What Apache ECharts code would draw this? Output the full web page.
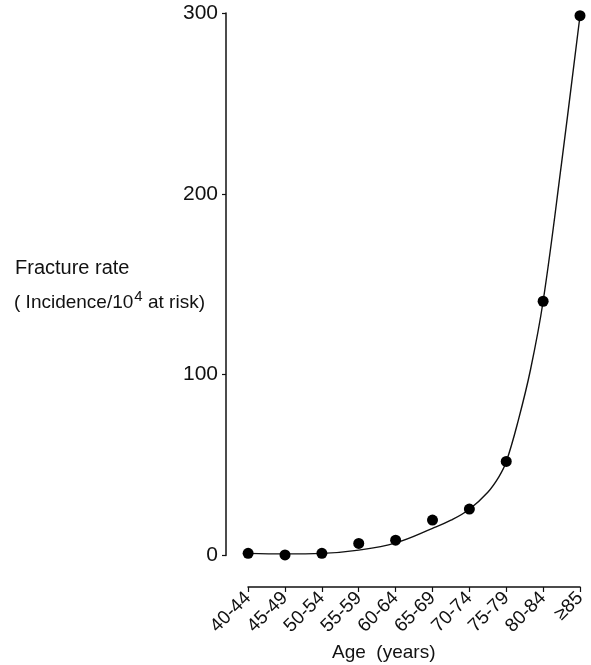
<!DOCTYPE html>
<html>
<head>
<meta charset="utf-8">
<script src="https://cdn.jsdelivr.net/npm/echarts@6/dist/echarts.min.js"></script>
<style>
  html, body { margin: 0; padding: 0; background: #fff; }
  #chart { width: 591px; height: 665px; }
</style>
</head>
<body>
<div id="chart"></div>
<script>
// age groups and observed fracture rates (per 10^4 at risk)
const ageGroups = ['40-44', '45-49', '50-54', '55-59', '60-64', '65-69', '70-74', '75-79', '80-84', '≥85'];
const fractureRates = [1.2, 0.3, 1.2, 6.7, 8.5, 19.6, 25.7, 52, 140.6, 298.5];

// fitted curve (x = age group index)
const curveX = [0, 1, 2, 3, 4, 5, 5.5, 6, 6.5, 6.8, 7, 7.33, 7.66, 8, 8.5, 9];
const curveY = [1.2, 0.9, 1.2, 3, 7, 15, 19.5, 25.6, 35, 43.5, 51.8, 75, 103, 140.6, 217, 298.5];

const yTicks = [0, 100, 200, 300];

const font = 'Liberation Sans';
const chart = echarts.init(document.getElementById('chart'));

const pointData = fractureRates.map((v, i) => [i, v]);
const curveData = curveX.map((x, i) => [x, curveY[i]]);

chart.setOption({
  animation: false,
  backgroundColor: '#fff',
  grid: [
    { left: 226, right: 11, top: 13, bottom: 109.5 },
    // separate grid just for the category axis below the plot
    { left: 248, right: 11, top: 586, height: 1 }
  ],
  xAxis: [
    {
      gridIndex: 0,
      type: 'value',
      min: -0.6,
      max: 9,
      show: false
    },
    {
      gridIndex: 1,
      type: 'category',
      data: ageGroups,
      boundaryGap: false,
      position: 'bottom',
      axisLine: { lineStyle: { color: '#111', width: 1.5 } },
      axisTick: { show: true, length: 5, lineStyle: { color: '#111', width: 1.2 } },
      axisLabel: {
        rotate: 45,
        interval: 0,
        margin: 8,
        fontFamily: font,
        fontSize: 19,
        color: '#111'
      }
    }
  ],
  yAxis: [
    {
      gridIndex: 0,
      type: 'value',
      min: 0,
      max: 300,
      interval: 100,
      axisLine: { show: true, onZero: false, lineStyle: { color: '#111', width: 1.5 } },
      axisTick: { show: true, length: 4, lineStyle: { color: '#111', width: 1.2 } },
      splitLine: { show: false },
      axisLabel: {
        margin: 8,
        fontFamily: font,
        fontSize: 21,
        color: '#111',
        formatter: v => (yTicks.indexOf(v) >= 0 ? String(v) : '')
      }
    },
    {
      gridIndex: 1,
      type: 'value',
      show: false
    }
  ],
  graphic: [
    {
      type: 'text',
      left: 15,
      top: 258,
      style: { text: 'Fracture rate', fontFamily: font, fontSize: 20, fill: '#111' }
    },
    {
      type: 'text',
      left: 14,
      top: 289,
      style: {
        text: '{n|( Incidence/10}{s|4}{n| at risk)}',
        fill: '#111',
        rich: {
          n: { fontFamily: font, fontSize: 19, fill: '#111', verticalAlign: 'bottom' },
          s: { fontFamily: font, fontSize: 15, fill: '#111', verticalAlign: 'top', padding: [0, 0, 8, 1] }
        }
      }
    },
    {
      type: 'text',
      left: 332,
      top: 643,
      style: { text: 'Age  (years)', fontFamily: font, fontSize: 19, fill: '#111' }
    }
  ],
  series: [
    {
      type: 'line',
      xAxisIndex: 0,
      yAxisIndex: 0,
      data: curveData,
      smooth: 0.4,
      symbol: 'none',
      lineStyle: { color: '#111', width: 1.4 },
      z: 2
    },
    {
      type: 'scatter',
      xAxisIndex: 0,
      yAxisIndex: 0,
      data: pointData,
      symbol: 'circle',
      symbolSize: 11,
      itemStyle: { color: '#000', opacity: 1 },
      z: 3
    }
  ]
});
</script>
</body>
</html>
